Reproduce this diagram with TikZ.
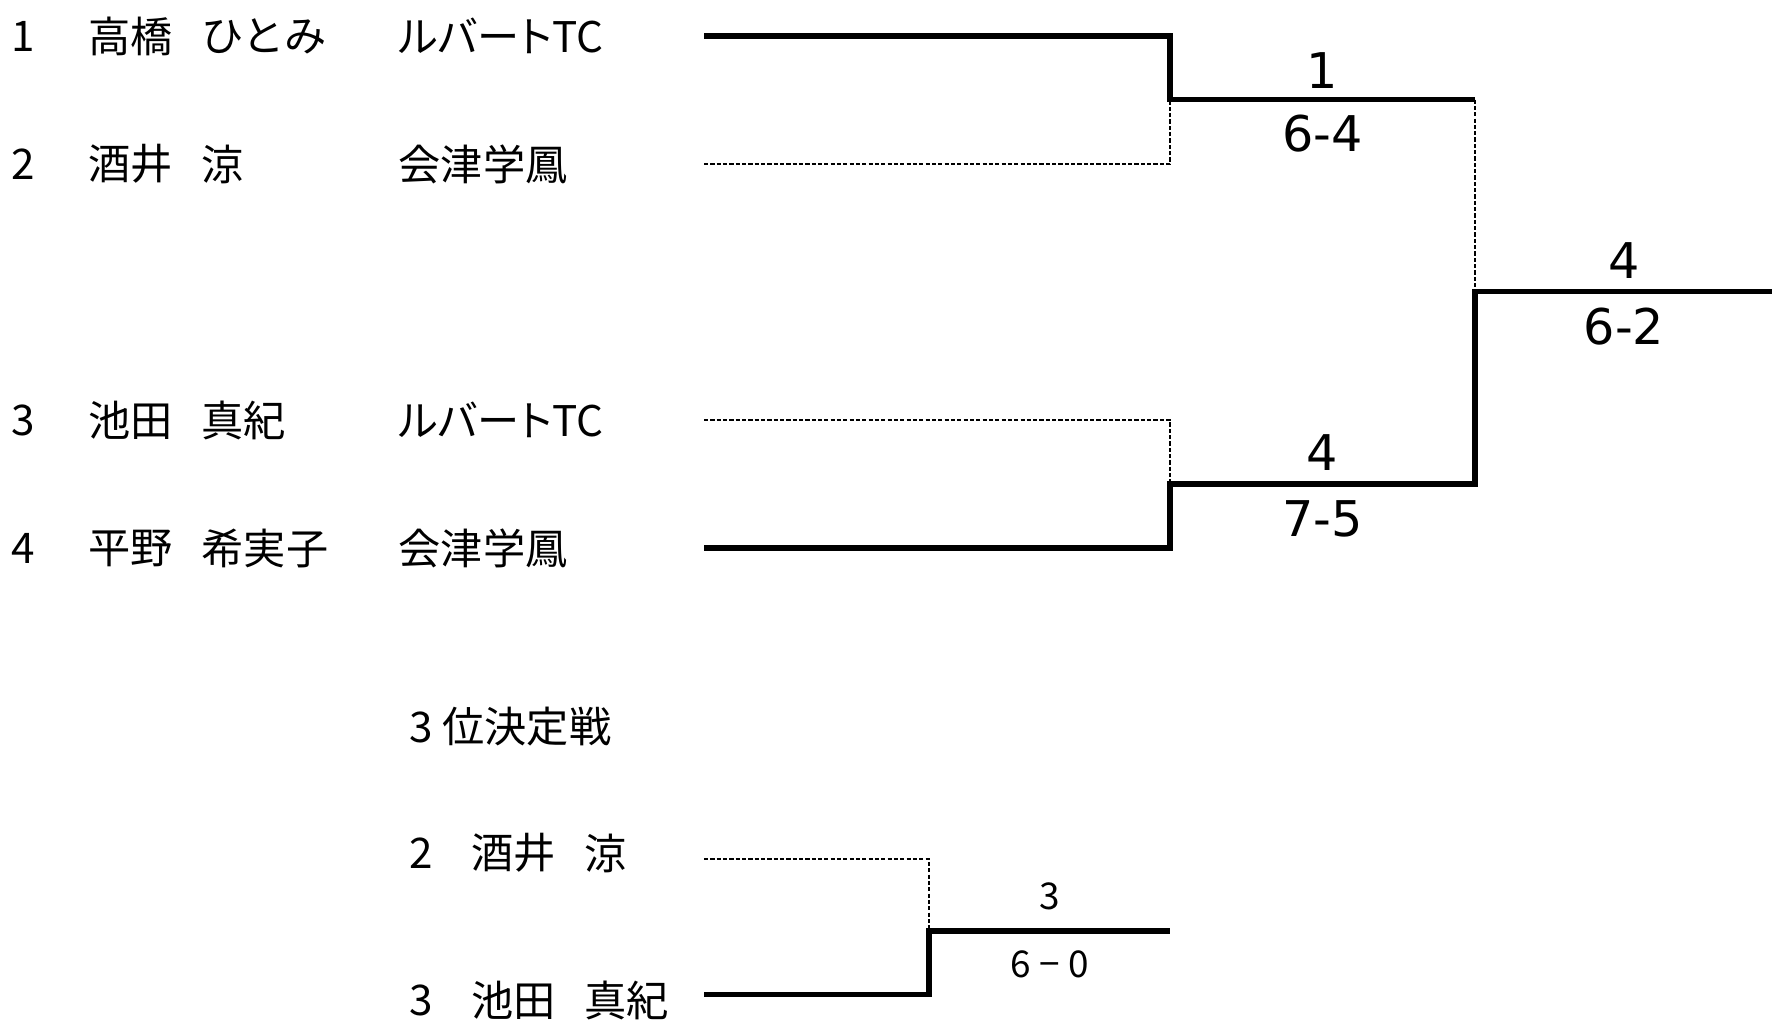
\documentclass[tikz,border=0pt]{standalone}
\usepackage{fontspec}
\setmainfont{Noto Sans CJK JP}
\newfontfamily\scorefont{DejaVu Sans}
\newfontfamily\clubfont[RawFeature=+palt]{Noto Sans CJK JP}
\usetikzlibrary{positioning}

\begin{document}
\begin{tikzpicture}[x=0.01cm,y=-0.01cm,line join=miter,
	win/.style={line width=1.6pt},
	lose/.style={line width=0.4pt,dash pattern=on 1.2pt off 0.6pt},
	entry/.style={anchor=west,inner sep=0pt,font=\fontsize{12}{14}\selectfont},
	club/.style={entry,font=\clubfont\fontsize{12}{14}\selectfont},
	score/.style={inner sep=0pt,font=\scorefont\fontsize{14}{16}\selectfont},
	smallscore/.style={inner sep=0pt,font=\fontsize{10.5}{12}\selectfont}]
	
	\useasboundingbox (0,0) rectangle (1772,1020);
	
	% players
	\node[entry] (no1) at (11,36) {1};
	\node[entry] (fa1) at (88,36) {高橋};
	\node[entry] (gi1) at (201,36) {ひとみ};
	\node[club] (cl1) at (398,36) {ルバートTC};
	
	\node[entry] (no2) at (11,164) {2};
	\node[entry] (fa2) at (88,164) {酒井};
	\node[entry] (gi2) at (201,164) {涼};
	\node[club] (cl2) at (398,164) {会津学鳳};
	
	\node[entry] (no3) at (11,420) {3};
	\node[entry] (fa3) at (88,420) {池田};
	\node[entry] (gi3) at (201,420) {真紀};
	\node[club] (cl3) at (398,420) {ルバートTC};
	
	\node[entry] (no4) at (11,548) {4};
	\node[entry] (fa4) at (88,548) {平野};
	\node[entry] (gi4) at (201,548) {希実子};
	\node[club] (cl4) at (398,548) {会津学鳳};
	
	% bracket points
	\coordinate (s1) at (704,36);
	\coordinate (s2) at (704,164);
	\coordinate (s3) at (704,420);
	\coordinate (s4) at (704,548);
	\coordinate (m1) at (1170,99.5);
	\coordinate (m2) at (1170,483.7);
	\coordinate (e1) at (1475,99.5);
	\coordinate (e2) at (1475,483.7);
	\coordinate (fin) at (1475,291.5);
	\coordinate (fend) at (1772,291.5);
	
	\draw[lose] (s2) -| (m1);
	\draw[lose] (s3) -| (m2);
	\draw[lose] (e1) -- (fin);
	\draw[win] (s1) -| (m1) -- (e1);
	\draw[win] (s4) -| (m2) -- (e2) -- (fin) -- (fend);
	
	\node[score] (w1) at (1322.5,70.5) {1};
	\node[score] (r1) at (1322.5,133.4) {6-4};
	\node[score] (w2) at (1322.5,453) {4};
	\node[score] (r2) at (1322.5,518.7) {7-5};
	\node[score] (wf) at (1624,261) {4};
	\node[score] (rf) at (1624,326.6) {6-2};
	
	% 3rd place
	\node[entry] (title) at (409,727) {3 位決定戦};
	\node[entry] (tn2) at (409,853) {2};
	\node[entry] (tf2) at (471,853) {酒井};
	\node[entry] (tg2) at (584,853) {涼};
	\node[entry] (tn3) at (409,1000) {3};
	\node[entry] (tf3) at (471,1000) {池田};
	\node[entry] (tg3) at (584,1000) {真紀};
	
	\coordinate (t2) at (704,859);
	\coordinate (t3) at (704,994.5);
	\coordinate (tm) at (929,931);
	\coordinate (te) at (1170,931);
	
	\draw[lose] (t2) -| (tm);
	\draw[win] (t3) -| (tm) -- (te);
	
	\node[smallscore] (w3) at (1049.5,896) {3};
	\node[smallscore] (r3) at (1049.5,964) {6 − 0};
	
\end{tikzpicture}
\end{document}
